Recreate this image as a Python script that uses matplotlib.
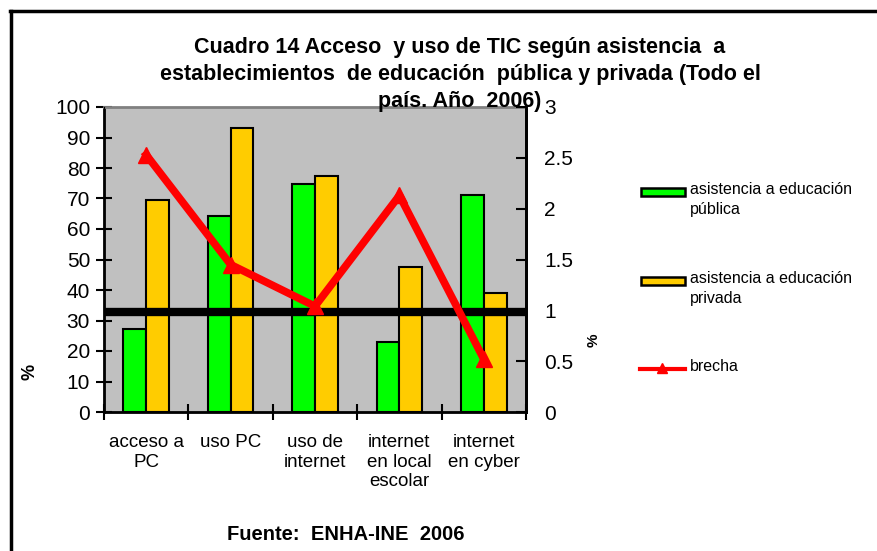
import matplotlib
matplotlib.use("Agg")
import matplotlib.pyplot as plt
from matplotlib.patches import Rectangle
from matplotlib.lines import Line2D
import numpy as np

plt.rcParams['font.family'] = ['Liberation Sans', 'DejaVu Sans']

categorias = ['acceso a\nPC', 'uso PC', 'uso de\ninternet', 'internet\nen local\nescolar', 'internet\nen cyber']
publica = [27.2, 64.2, 74.6, 22.8, 71.0]
privada = [69.4, 93.1, 77.4, 47.6, 38.9]
brecha = [2.53, 1.45, 1.04, 2.13, 0.52]
leyenda = ['asistencia a educación\npública', 'asistencia a educación\nprivada', 'brecha']
col_pub = '#00FF00'
col_priv = '#FFCC00'
col_brecha = '#FF0000'

W, H = 878, 551
dpi = 100
fig = plt.figure(figsize=(W / dpi, H / dpi), dpi=dpi)

def fx(px):
    return px / W

def fy(py):
    return 1 - py / H

# marco exterior (solo arriba e izquierda visibles)
fig.add_artist(Line2D([fx(11), fx(11)], [fy(11), fy(560)], color='black', lw=2.5))
fig.add_artist(Line2D([fx(10), fx(880)], [fy(11), fy(11)], color='black', lw=2.5))

ax = fig.add_axes([fx(104), fy(412), fx(526) - fx(104), fy(107) - fy(412)])
ax.set_facecolor('#C0C0C0')
x = np.arange(len(categorias))
w = 0.27
ax.bar(x - w / 2, publica, w, color=col_pub, edgecolor='black', linewidth=1.5, zorder=2)
ax.bar(x + w / 2, privada, w, color=col_priv, edgecolor='black', linewidth=1.5, zorder=2)
ax.set_xlim(-0.5, len(categorias) - 0.5)
ax.set_ylim(0, 100)
ax.set_yticks(range(0, 101, 10))
ax.tick_params(axis='y', direction='inout', length=12, width=1.5, labelsize=15, pad=4)
ax.set_xticks(x)
ax.set_xticklabels(categorias, fontsize=13.5, linespacing=1.2)
ax.tick_params(axis='x', which='major', length=0, pad=16)
ax.set_xticks(np.arange(-0.5, len(categorias), 1), minor=True)
ax.tick_params(axis='x', which='minor', direction='inout', length=12, width=1.5)
for s in ['left', 'bottom', 'right']:
    ax.spines[s].set_linewidth(2)
ax.spines['top'].set_color('#808080')
ax.spines['top'].set_linewidth(2)

ax2 = ax.twinx()
ax2.set_ylim(0, 3)
ax2.set_yticks([0, 0.5, 1, 1.5, 2, 2.5, 3])
ax2.set_yticklabels(['0', '0.5', '1', '1.5', '2', '2.5', '3'])
ax2.tick_params(axis='y', direction='in', length=7, width=1.5, labelsize=15, pad=13)
ax2.spines['right'].set_linewidth(2)
ax2.spines['top'].set_visible(False)
ax2.axhline(0.985, color='black', lw=6, zorder=3)
ax2.plot(x, brecha, color=col_brecha, lw=5.5, marker='^', markersize=11, zorder=4)

# titulo
fig.text(fx(460), fy(48), 'Cuadro 14 Acceso  y uso de TIC según asistencia  a',
         ha='center', va='center', fontsize=15.5, fontweight='bold')
fig.text(fx(460), fy(75), 'establecimientos  de educación  pública y privada (Todo el',
         ha='center', va='center', fontsize=15.5, fontweight='bold')
fig.text(fx(460), fy(102), 'país. Año  2006)',
         ha='center', va='center', fontsize=15.5, fontweight='bold')

# etiquetas de eje ilegibles
fig.text(fx(30), fy(372), '%', rotation=90, ha='center', va='center', fontsize=13, fontweight='bold')
fig.text(fx(594), fy(340), '%', rotation=90, ha='center', va='center', fontsize=11, fontweight='bold')

# leyenda
filas = [192, 281, 369]
for i, (lab, py) in enumerate(zip(leyenda, filas)):
    if i < 2:
        col = [col_pub, col_priv][i]
        fig.add_artist(Rectangle((fx(641), fy(py + 4)), fx(685) - fx(641), fy(py - 4) - fy(py + 4),
                                 facecolor=col, edgecolor='black', lw=1.8))
    else:
        fig.add_artist(Line2D([fx(640), fx(685)], [fy(py), fy(py)], color=col_brecha, lw=3))
        fig.add_artist(Line2D([fx(662)], [fy(py - 1)], color=col_brecha, marker='^', markersize=7))
    fig.text(fx(690), fy(py - 10), lab, ha='left', va='top', fontsize=11.5, linespacing=1.45)

fig.text(fx(346), fy(535), 'Fuente:  ENHA-INE  2006', ha='center', va='center',
         fontsize=14.5, fontweight='bold')

fig.savefig('out.png', dpi=dpi)
